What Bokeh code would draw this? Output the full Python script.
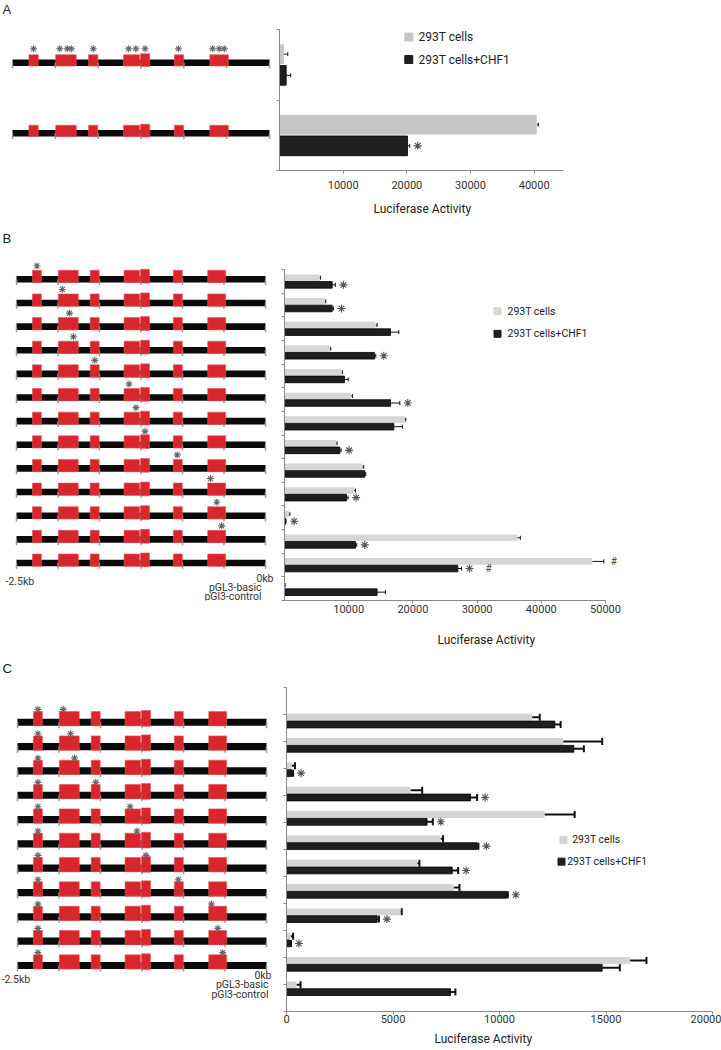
import numpy as np
from bokeh.plotting import figure
from bokeh.models import (Range1d, FixedTicker, Whisker, TeeHead, ColumnDataSource,
                          Title, CustomJSTickFormatter)
from bokeh.layouts import column, row
from bokeh.embed import file_html
from bokeh.resources import INLINE
from bokeh.core.properties import value

FONT = "Roboto"

# ---------------- data ----------------
series = ["293T cells", " 293T cells+CHF1"]
axis_title = "Luciferase Activity"

# promoter elements (kb relative to transcription start)
element_start = [-2.34, -2.08, -1.76, -1.42, -1.255, -0.925, -0.58]
element_end = [-2.25, -1.88, -1.67, -1.265, -1.165, -0.835, -0.40]
mutation_sites = [-2.295, -2.04, -1.968, -1.928, -1.714, -1.37, -1.30, -1.21,
                  -0.886, -0.553, -0.489, -0.44]
kb_ticks = [-2.5, -2.083, -1.667, -1.25, -0.833, -0.417, 0.0]
left_label = "-2.5kb"
right_label = "0kb"
control_labels = ["pGL3-basic", "pGl3-control"]

# Panel A
A_mutated = [[0, 1, 2, 3, 4, 5, 6, 7, 8, 9, 10, 11], []]
A_gray = [700, 40400]
A_gray_err = [600, 250]
A_black = [1050, 20100]
A_black_err = [700, 350]
A_sig = ["", "*"]

# Panel B
B_mutated = [[0], [1], [2], [3], [4], [5], [6], [7], [8], [9], [10], [11], []]
B_gray = [5450, 6280, 14170, 7060, 8880, 10380, 18690, 8040, 12100, 10800, 680, 36240, 47930, 150]
B_gray_err = [150, 150, 260, 150, 150, 200, 200, 150, 250, 250, 150, 500, 1800, 0]
B_black = [7430, 7430, 16510, 14020, 9350, 16510, 17030, 8620, 12510, 9660, 150, 11060, 27000, 14430]
B_black_err = [500, 200, 1300, 200, 570, 1450, 1350, 200, 150, 250, 100, 200, 570, 1300]
B_sig = ["*", "*", "", "*", "", "*", "", "*", "", "*", "*", "*", "*", ""]
B_gray_hash = ["", "", "", "", "", "", "", "", "", "", "", "", "#", ""]
B_black_hash = ["", "", "", "", "", "", "", "", "", "", "", "", "#", ""]

# Panel C
C_mutated = [[0, 1], [0, 2], [0, 3], [0, 4], [0, 5], [0, 6], [0, 7], [0, 8], [0, 9], [0, 10], [0, 11]]
C_gray = [11530, 12990, 250, 5820, 12110, 7230, 6140, 7850, 5350, 190, 16120, 470]
C_gray_err = [360, 1830, 150, 550, 1420, 120, 100, 270, 60, 120, 780, 190]
C_black = [12600, 13490, 250, 8640, 6600, 8950, 7780, 10330, 4260, 150, 14820, 7700]
C_black_err = [270, 470, 60, 310, 270, 60, 280, 60, 80, 60, 830, 230]
C_sig = ["", "", "*", "*", "*", "*", "*", "*", "*", "*", "", ""]

# ---------------- layout (page pixels) ----------------
DIAG_W = 275
BAR_W = 446
STAR_GAP = 8  # px between error bar end and significance star
CFG = {
    "A": dict(top=0, height=225, yc1=64.25, unit=70.5, x0=279, x1=563, fright=563,
              axtop=29, fbot=170,
              xmax=44600, xticks=[10000, 20000, 30000, 40000], yint=2, kb_px=(12, 269),
              line=(-5.3, 1.3), box=-10.0, star=-16.0, gray_color="#c6c6c6",
              err_w=1, tee=4, sq=8, legend=[(408.3, 36.5, 418), (408.3, 59, 418)], legend_fs="12px",
              title_left=373, title_standoff=17, letter_y=9, tick_standoff=7, labels=None),
    "B": dict(top=225, height=437, yc1=280.8, unit=23.64, x0=284, x1=605, fright=628,
              axtop=269, fbot=600,
              xmax=50000, xticks=[10000, 20000, 30000, 40000, 50000], yint=14, kb_px=(16, 265),
              line=(-5.3, 1.3), box=-11.0, star=-15.5, gray_color="#d6d6d6",
              err_w=1, tee=4, sq=7, legend=[(497, 310.7, 507), (497, 333.3, 507)], legend_fs="10.5px",
              title_left=437, title_standoff=30, letter_y=238, tick_standoff=1,
              labels=(5, 581, 273, 578, 261, 586.5, 595.5)),
    "C": dict(top=662, height=387, yc1=720.5, unit=24.4, x0=286, x1=712, fright=712,
              axtop=687, fbot=1012,
              xmax=20000, xticks=[0, 5000, 10000, 15000, 20000], yint=12, kb_px=(17, 266),
              line=(-2.2, 5.0), box=-9.3, star=-11.5, gray_color="#d3d3d3",
              err_w=2, tee=7, sq=7, legend=[(563, 840, 571.7), (561, 861.7, 566.7)], legend_fs="10.5px",
              title_left=434, title_standoff=8, letter_y=668, tick_standoff=0,
              labels=(1, 980, 271, 976, 268, 985, 995)),
}


def panel(letter, gray, gray_err, black, black_err, sig, mutated, gray_hash=None, black_hash=None):
    cfg = CFG[letter]
    top, H, u = cfg["top"], cfg["height"], cfg["unit"]
    fb, at = cfg["fbot"], cfg["axtop"]

    def vy(Y):
        return 1 + (Y - cfg["yc1"]) / u

    yr = Range1d(vy(fb), vy(top))
    borders = dict(min_border_top=0, min_border_bottom=top + H - fb)

    # ---------- promoter diagrams ----------
    L, R = cfg["kb_px"]
    s = (R - L) / (kb_ticks[-1] - kb_ticks[0])

    def kx(X):
        return kb_ticks[0] + (X - L) / s

    d = figure(width=DIAG_W, height=H, x_range=Range1d(kx(0), kx(DIAG_W)), y_range=yr,
               output_backend="svg", toolbar_location=None, title=None,
               min_border_left=0, min_border_right=0, **borders)
    d.axis.visible = False
    d.grid.visible = False
    d.outline_line_color = None

    d.text(x=[kx(2)], y=[vy(cfg["letter_y"])], text=[letter], text_font=value("Liberation Sans"),
           text_font_size="13px", text_align="left", text_baseline="middle", text_color="#222222")

    n = len(mutated)
    rows = np.arange(1, n + 1)
    lt, lb = cfg["line"]
    d.quad(left=kb_ticks[0], right=kb_ticks[-1], top=rows + lt / u, bottom=rows + lb / u,
           fill_color="#0a0a0a", line_color=None)
    tx = [t for r in rows for t in kb_ticks]
    ty0 = [r + (lt + lb) / 2 / u for r in rows for t in kb_ticks]
    ty1 = [r + (lb + 2.5) / u for r in rows for t in kb_ticks]
    d.segment(x0=tx, y0=ty0, x1=tx, y1=ty1, line_color="#9a9a9a", line_width=1.5)

    bl, br, bt, bb = [], [], [], []
    for r in rows:
        for e in range(len(element_start)):
            raise_px = 1.0 if e == 4 else 0.0
            bl.append(element_start[e])
            br.append(element_end[e])
            bt.append(r + (cfg["box"] - raise_px) / u)
            bb.append(r + (lb + raise_px * 0.5) / u)
    d.quad(left=bl, right=br, top=bt, bottom=bb, fill_color="#d9262c",
           line_color="#e3555a", line_width=0.6)

    sx = [mutation_sites[i] for ri, m in enumerate(mutated) for i in m]
    sy = [ri + 1 + cfg["star"] / u for ri, m in enumerate(mutated) for i in m]
    d.scatter(x=sx, y=sy, marker="asterisk", size=7, line_color="#666666", line_width=1.1)

    if cfg["labels"]:
        lx, ly, rx, ry, cx, cy1, cy2 = cfg["labels"]
        d.text(x=[kx(lx)], y=[vy(ly)], text=[left_label], text_font=value(FONT),
               text_font_size="10.5px", text_align="left", text_baseline="middle", text_color="#333333")
        d.text(x=[kx(rx), kx(cx), kx(cx)], y=[vy(ry), vy(cy1), vy(cy2)],
               text=[right_label] + control_labels, text_font=value(FONT),
               text_font_size="10.5px", text_align="right", text_baseline="middle", text_color="#333333")

    # ---------- bar chart ----------
    x0, x1, xmax, fr = cfg["x0"], cfg["x1"], cfg["xmax"], cfg["fright"]
    per_px = xmax / (x1 - x0)

    def bx(X):
        return (X - x0) * per_px

    b = figure(width=BAR_W, height=H, x_range=Range1d(0, bx(fr)), y_range=yr,
               output_backend="svg", toolbar_location=None, title=None,
               min_border_left=x0 - DIAG_W, min_border_right=DIAG_W + BAR_W - fr, **borders)
    b.grid.visible = False
    b.outline_line_color = None

    m = len(gray)
    cats = np.arange(1, m + 1)
    src = ColumnDataSource(dict(
        yg=cats - 0.15, yb=cats + 0.15,
        g=gray, ge=np.add(gray, gray_err), k=black, ke=np.add(black, black_err),
        gh=gray_hash if gray_hash else [""] * m,
        kh=black_hash if black_hash else [""] * m,
    ))
    b.hbar(y="yg", left=0, right="g", height=0.28, source=src,
           fill_color=cfg["gray_color"], line_color=None)
    b.hbar(y="yb", left=0, right="k", height=0.28, source=src,
           fill_color="#1f1f1f", line_color="#000000", line_width=0.8)
    for base, lo, hi in [("yg", "g", "ge"), ("yb", "k", "ke")]:
        b.add_layout(Whisker(source=src, base=base, lower=lo, upper=hi, dimension="width",
                             line_color="#111111", line_width=cfg["err_w"], lower_head=None,
                             upper_head=TeeHead(size=cfg["tee"], line_color="#111111",
                                                line_width=cfg["err_w"])))
    # significance stars right of the CHF1 error bar
    star_idx = [i for i, sgn in enumerate(sig) if sgn == "*"]
    b.scatter(x=[black[i] + black_err[i] + STAR_GAP * per_px for i in star_idx],
              y=[cats[i] + 0.15 for i in star_idx], marker="asterisk", size=8,
              line_color="#555555", line_width=1.1)
    b.text(x="ge", y="yg", text="gh", source=src, x_offset=10, text_align="center",
           text_baseline="middle", text_font=value(FONT), text_font_size="10px", text_color="#444444")
    b.text(x="ke", y="yb", text="kh", source=src, x_offset=27, text_align="center",
           text_baseline="middle", text_font=value(FONT), text_font_size="10px", text_color="#444444")

    xa = b.xaxis[0]
    xa.ticker = FixedTicker(ticks=cfg["xticks"])
    xa.bounds = (0, xmax)
    xa.axis_line_color = "#888888"
    xa.major_tick_line_color = "#888888"
    xa.major_tick_out = 3
    xa.major_tick_in = 0
    xa.minor_tick_line_color = None
    xa.major_label_text_font = FONT
    xa.major_label_text_font_size = "11px"
    xa.major_label_text_color = "#333333"
    xa.major_label_standoff = cfg["tick_standoff"]

    ya = b.yaxis[0]
    ya.ticker = FixedTicker(ticks=list(np.linspace(vy(at), vy(fb), cfg["yint"] + 1)))
    ya.bounds = (vy(at), vy(fb))
    ya.formatter = CustomJSTickFormatter(code="return ''")
    ya.major_label_standoff = 0
    ya.major_tick_out = 3
    ya.major_tick_in = 0
    ya.minor_tick_line_color = None
    ya.axis_line_color = "#888888"
    ya.major_tick_line_color = "#888888"

    for (X, Y, TX), col, lab in zip(cfg["legend"], [cfg["gray_color"], "#1f1f1f"], series):
        b.scatter(x=[bx(X)], y=[vy(Y)], marker="square", size=cfg["sq"], fill_color=col, line_color=col)
        b.text(x=[bx(TX)], y=[vy(Y)], text=[lab], text_font=value(FONT), text_font_size=cfg["legend_fs"],
               text_align="left", text_baseline="middle", text_color="#222222")

    b.add_layout(Title(text=axis_title, align="left", offset=cfg["title_left"] - x0,
                       standoff=cfg["title_standoff"], text_font=FONT, text_font_style="normal",
                       text_font_size="12px", text_color="#222222"), "below")
    return row(d, b, spacing=0)


pa = panel("A", A_gray, A_gray_err, A_black, A_black_err, A_sig, A_mutated)
pb = panel("B", B_gray, B_gray_err, B_black, B_black_err, B_sig, B_mutated, B_gray_hash, B_black_hash)
pc = panel("C", C_gray, C_gray_err, C_black, C_black_err, C_sig, C_mutated)

p = column(pa, pb, pc, spacing=0)
open("out.html", "w").write(file_html(p, INLINE))
